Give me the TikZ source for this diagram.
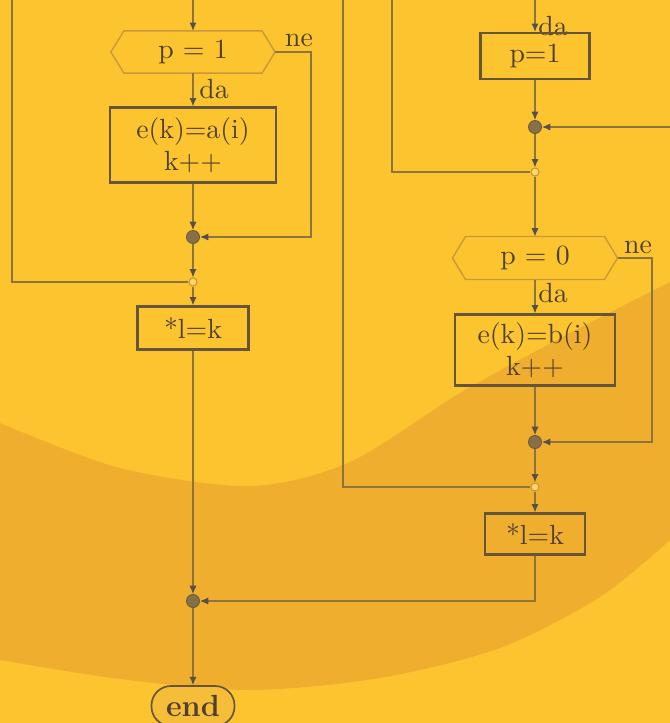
\documentclass[tikz,border=0pt]{standalone}
\usetikzlibrary{arrows.meta,calc}
\definecolor{bgY}{HTML}{FCC530}
\definecolor{bandO}{HTML}{F0AE2E}
\definecolor{lineC}{HTML}{8C7440}
\definecolor{boxC}{HTML}{65553A}
\definecolor{txtC}{HTML}{4E4030}
\definecolor{hexC}{HTML}{C8983A}
\definecolor{dotC}{HTML}{857048}
\definecolor{tipC}{HTML}{55504A}
\definecolor{holC}{HTML}{FFD66A}
\definecolor{endF}{HTML}{F6BD38}
\begin{document}
\begin{tikzpicture}[x=0.36pt,y=-0.36pt,
  every node/.style={text=txtC, font=\fontsize{10}{11.5}\selectfont},
  boxnode/.style={draw=boxC, line width=0.8pt, rectangle, align=center, inner sep=1pt},
  hexnode/.style={rectangle, inner sep=1pt},
  hexline/.style={draw=hexC, line width=0.5pt},
  dotnode/.style={circle, fill=dotC, draw=dotC!80!black, line width=0.3pt, minimum size=4.7pt, inner sep=0pt},
  joinnode/.style={circle, fill=holC, draw=hexC, line width=0.4pt, minimum size=2.9pt, inner sep=0pt},
  endnode/.style={draw=boxC, fill=endF, rounded corners=7pt, line width=0.6pt, font=\fontsize{11}{13}\selectfont\bfseries, minimum width=29.9pt, minimum height=14.4pt, inner sep=1pt},
  conn/.style={draw=lineC, line width=0.45pt},
  arr/.style={conn, -{Latex[length=3pt,width=2.6pt,color=tipC]}},
  lbl/.style={inner sep=0pt}
]
\useasboundingbox (0,0) rectangle (670,723);
\fill[bgY] (0,0) rectangle (670,723);
\fill[bandO] plot[smooth] coordinates {(0,423) (120,468) (250,486) (350,462) (460,393) (570,333) (670,282)}
  -- plot[smooth] coordinates {(670,540) (600,597) (500,648) (380,678) (250,690) (120,679) (0,660)} -- cycle;

% ---------- left column ----------
\coordinate (tL) at (193,0);
\node[hexnode, minimum width=58.7pt, minimum height=14.8pt] (h1) at (193,52) {p = 1};
\draw[hexline] (h1.west) -- ($(h1.north west)+(13,0)$) -- ($(h1.north east)+(-13,0)$) -- (h1.east)
  -- ($(h1.south east)+(-13,0)$) -- ($(h1.south west)+(13,0)$) -- cycle;
\node[lbl] (neL) at (299,40) {ne};
\node[lbl] (daL) at (214,89) {da};
\node[boxnode, minimum width=59.8pt, minimum height=27pt] (b1) at (193,145) {e(k)=a(i)\\k++};
\node[dotnode] (c1) at (193,237) {};
\coordinate (kL) at (311,237);
\node[joinnode] (j1) at (193,282) {};
\coordinate (lTop) at (12,0);
\coordinate (lBot) at (12,282);
\node[boxnode, minimum width=40pt, minimum height=15.5pt] (s1) at (193,328) {*l=k};
\node[dotnode] (c3) at (193,601) {};
\node[endnode] (endn) at (193,706) {end};

\draw[arr] (tL) -- (h1.north);
\draw[arr] (h1.south) -- (b1.north);
\draw[arr] (h1.east) -| (kL) -- (c1);
\draw[arr] (b1) -- (c1);
\draw[arr] (c1) -- (j1);
\draw[conn] (lTop) -- (lBot) -- (j1);
\draw[arr] (j1) -- (s1);
\draw[arr] (s1) -- (c3);
\draw[arr] (c3) -- (endn);

% ---------- right column ----------
\coordinate (tR) at (535,0);
\node[lbl] (daT) at (553,26) {da};
\node[boxnode, minimum width=39.2pt, minimum height=16.6pt] (p1) at (535,56) {p=1};
\node[dotnode] (c2) at (535,127) {};
\coordinate (rIn) at (670,127);
\node[joinnode] (j2) at (535,172) {};
\coordinate (mTop) at (392,0);
\coordinate (mBot) at (392,172);
\node[hexnode, minimum width=59pt, minimum height=15.1pt] (h2) at (535,258) {p = 0};
\draw[hexline] (h2.west) -- ($(h2.north west)+(13,0)$) -- ($(h2.north east)+(-13,0)$) -- (h2.east)
  -- ($(h2.south east)+(-13,0)$) -- ($(h2.south west)+(13,0)$) -- cycle;
\node[lbl] (neR) at (638,247) {ne};
\node[lbl] (daR) at (553,293) {da};
\node[boxnode, minimum width=57.6pt, minimum height=25.6pt] (b2) at (535,350) {e(k)=b(i)\\k++};
\node[dotnode] (c4) at (535,442) {};
\coordinate (kR) at (652,442);
\node[joinnode] (j3) at (535,487) {};
\coordinate (nTop) at (343,0);
\coordinate (nBot) at (343,487);
\node[boxnode, minimum width=36pt, minimum height=14.8pt] (s2) at (535,534) {*l=k};

\draw[arr] (tR) -- (p1.north);
\draw[arr] (p1) -- (c2);
\draw[arr] (rIn) -- (c2);
\draw[arr] (c2) -- (j2);
\draw[conn] (mTop) -- (mBot) -- (j2);
\draw[arr] (j2) -- (h2.north);
\draw[arr] (h2.east) -| (kR) -- (c4);
\draw[arr] (h2.south) -- (b2.north);
\draw[arr] (b2) -- (c4);
\draw[arr] (c4) -- (j3);
\draw[conn] (nTop) -- (nBot) -- (j3);
\draw[arr] (j3) -- (s2);
\draw[arr] (s2.south) |- (c3);
\end{tikzpicture}
\end{document}
